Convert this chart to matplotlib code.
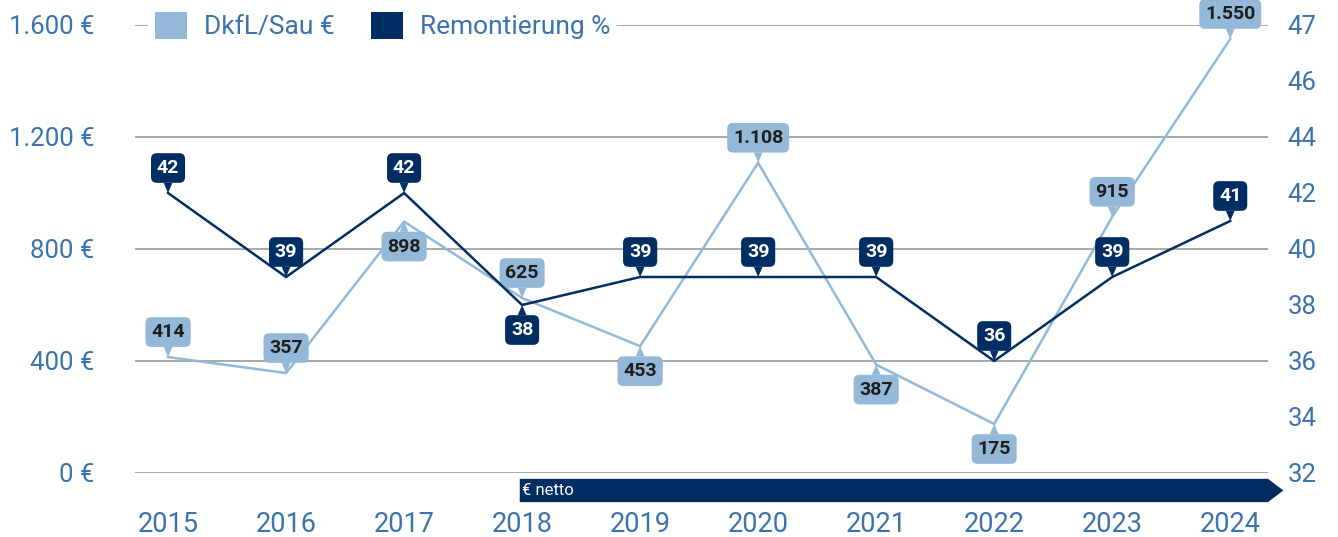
import matplotlib.pyplot as plt
from matplotlib.patches import Patch, Polygon
from matplotlib.transforms import blended_transform_factory

plt.rcParams['font.family'] = ['Roboto', 'DejaVu Sans']

jahre = ['2015', '2016', '2017', '2018', '2019', '2020', '2021', '2022', '2023', '2024']
dkfl = [414, 357, 898, 625, 453, 1108, 387, 175, 915, 1550]
remont = [42, 39, 42, 38, 39, 39, 39, 36, 39, 41]
# label above (1) or below (-1) the point
dkfl_pos = [1, 1, -1, 1, -1, 1, -1, -1, 1, 1]
remont_pos = [1, 1, 1, -1, 1, 1, 1, 1, 1, 1]

links_ticks = [0, 400, 800, 1200, 1600]
links_labels = ['0 €', '400 €', '800 €', '1.200 €', '1.600 €']
rechts_ticks = [32, 34, 36, 38, 40, 42, 44, 46, 48]
rechts_labels = ['32', '34', '36', '38', '40', '42', '44', '46', '47']

hell = '#94b9d8'
dunkel = '#002d62'
tickfarbe = '#3a73ad'

fig = plt.figure(figsize=(13.38, 5.37), dpi=100)
ax = fig.add_axes([135 / 1338, 64 / 537, 1133 / 1338, 448 / 537])
ax2 = ax.twinx()

x = list(range(len(jahre)))
ax.set_xlim(-0.28, 9.32)
ax.set_ylim(0, 1600)
ax2.set_ylim(32, 48)

for y in links_ticks:
    ax.axhline(y, color='#9a9a9a', lw=1.2, zorder=0)

ax.plot(x, dkfl, color=hell, lw=1.8, zorder=2)
ax2.plot(x, remont, color=dunkel, lw=1.8, zorder=3)

def labels(axis, werte, pos, fc, tc, z):
    for i, (v, p) in enumerate(zip(werte, pos)):
        txt = f'{v:,}'.replace(',', '.')
        axis.annotate(txt, xy=(i, v), xytext=(0, 25 * p), textcoords='offset pixels',
                      ha='center', va='center', fontsize=14, fontweight='bold',
                      color=tc, zorder=z,
                      bbox=dict(boxstyle='round,pad=0.3,rounding_size=0.3', fc=fc, ec='none'),
                      arrowprops=dict(arrowstyle='wedge,tail_width=0.45,shrink_factor=0.5',
                                      fc=fc, ec='none', shrinkA=0, shrinkB=0))

labels(ax, dkfl, dkfl_pos, hell, '#1e1e1e', 5)
labels(ax2, remont, remont_pos, dunkel, 'white', 6)

for a in (ax, ax2):
    for s in a.spines.values():
        s.set_visible(False)

ax.set_xticks(x)
ax.set_xticklabels(jahre)
ax.set_yticks(links_ticks)
ax.set_yticklabels(links_labels)
ax2.set_yticks(rechts_ticks)
ax2.set_yticklabels(rechts_labels)
ax.tick_params(axis='x', length=0, pad=27, labelsize=19.5, labelcolor=tickfarbe)
ax.tick_params(axis='y', length=0, pad=29, labelsize=18.5, labelcolor=tickfarbe)
ax2.tick_params(axis='y', length=0, pad=14, labelsize=18.5, labelcolor=tickfarbe)

# "€ netto" arrow bar below the plot
trans = blended_transform_factory(ax.transData, ax.transAxes)
pfeil = Polygon([(2.98, -0.013), (9.32, -0.013), (9.45, -0.039), (9.32, -0.065), (2.98, -0.065)],
                closed=True, fc=dunkel, ec='none', transform=trans, clip_on=False)
ax.add_patch(pfeil)
ax.text(3.0, -0.039, '€ netto', transform=trans, color='white', fontsize=12,
        ha='left', va='center')

handles = [Patch(fc=hell, ec='none', label='DkfL/Sau €'),
           Patch(fc=dunkel, ec='none', label='Remontierung %')]
leg = fig.legend(handles=handles, loc='upper left', bbox_to_anchor=(143 / 1338, 1.0),
                 ncol=2, fontsize=19, frameon=True, facecolor='white', edgecolor='none',
                 framealpha=1, handlelength=1.2, handleheight=1.2, columnspacing=1.4,
                 handletextpad=0.65, borderpad=0.25, borderaxespad=0.2)
for t in leg.get_texts():
    t.set_color(tickfarbe)

fig.savefig('out.png', dpi=100)
